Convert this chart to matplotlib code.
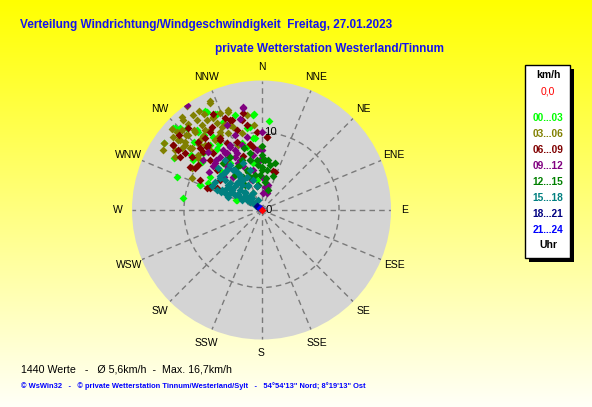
import numpy as np
import matplotlib
matplotlib.use("Agg")
import matplotlib.pyplot as plt
from matplotlib.patches import Rectangle
from matplotlib import font_manager

# ---------------- data ----------------
dir_labels = ["N", "NNE", "NE", "ENE", "E", "ESE", "SE", "SSE",
              "S", "SSW", "SW", "WSW", "W", "WNW", "NW", "NNW"]
max_speed = 16.7
ring_values = [10]

hour_labels = ["00...03", "03...06", "06...09", "09...12",
               "12...15", "15...18", "18...21", "21...24"]
hour_colors = ["#00ff00", "#808000", "#800000", "#800080",
               "#008000", "#008080", "#000080", "#0000ff"]

# wind direction (deg, from N clockwise) and speed (km/h) per 3-hour block
dir_00_03 = [330.9, 334.3, 355.5, 5.0, 312.7, 304.4, 300.7, 291.0, 279.0, 321.1,
             315.1, 314.3, 321.6, 292.1, 302.9, 314.0, 325.1, 324.0, 326.7, 292.0,
             349.7, 343.4, 353.5, 326.0, 306.3, 315.1, 336.6, 350.8,
             330.3, 335.1, 344.4, 355.1, 313.4, 317.5, 321.0, 322.2, 327.1, 346.8,
             354.8, 308.2, 352.1, 292.1, 292.0, 296.6, 308.9, 350.0]
spd_00_03 = [14.5, 13.8, 12.4, 11.5, 15.6, 15.3, 13.1, 11.7, 10.2, 13.0,
             12.4, 10.5, 10.7, 8.6, 7.9, 7.4, 7.9, 9.8, 11.3, 3.5,
             10.7, 9.0, 9.3, 7.3, 10.9, 14.9, 12.4, 3.9,
             14.7, 13.7, 12.7, 12.3, 15.3, 14.3, 13.3, 12.2, 10.2, 8.4,
             9.3, 11.5, 10.8, 8.6, 3.4, 7.7, 9.9, 6.1]

dir_03_06 = [324.5, 334.4, 328.0, 319.3, 319.8, 312.3, 304.4, 301.3, 309.8, 310.7,
             315.0, 319.6, 324.9, 328.6, 332.7, 336.8, 341.4, 337.2, 332.1, 327.2,
             328.0, 321.6, 316.5, 310.8, 307.7, 301.7, 294.4, 340.4, 341.3, 336.6,
             345.5, 355.2, 351.1, 300.8, 309.3, 312.7, 311.8, 324.2, 332.6, 329.0,
             334.6, 324.3, 332.3, 341.6, 319.0, 334.5, 358.6, 0.2, 315.2, 315.6,
             319.5, 318.7, 310.4, 311.7, 319.0, 310.0, 324.8, 326.4, 304.7, 310.9,
             319.4, 331.0, 339.7]
spd_03_06 = [16.5, 15.3, 15.1, 15.8, 14.6, 15.6, 15.3, 14.9, 14.8, 13.9,
             13.7, 13.5, 13.4, 13.6, 13.5, 13.6, 13.4, 12.1, 11.4, 12.3,
             10.9, 12.1, 11.8, 12.2, 13.0, 13.1, 9.9, 8.9, 11.3, 10.8,
             10.2, 11.0, 12.4, 10.5, 10.5, 14.9, 13.2, 14.3, 12.6, 14.5,
             15.5, 15.1, 13.4, 13.6, 15.4, 11.9, 8.0, 6.7, 14.5, 13.5,
             13.2, 12.0, 12.9, 12.0, 11.1, 14.1, 12.6, 10.8, 13.6, 10.8,
             10.2, 11.1, 11.7]

dir_06_09 = [317.8, 326.7, 306.4, 303.0, 306.5, 307.4, 315.1, 319.1, 329.3, 319.6,
             332.4, 340.7, 342.8, 350.1, 350.2, 352.7, 4.0, 17.2, 294.4, 296.0,
             311.7, 314.2, 325.1, 341.2, 325.9, 305.9, 349.4, 338.3, 302.1, 317.3,
             301.2, 312.1, 356.5, 291.6,
             333.5, 341.7, 347.6, 329.1, 321.8, 329.9, 306.4, 305.8, 320.7, 340.0,
             4.1, 295.8, 292.8, 19.4, 6.5, 305.2, 315.0]
spd_06_09 = [14.2, 12.1, 14.1, 12.6, 12.3, 11.3, 11.2, 10.8, 10.5, 9.6,
             9.7, 12.3, 10.8, 11.1, 8.7, 8.2, 9.5, 5.2, 7.3, 8.8,
             7.7, 9.3, 7.9, 7.3, 5.7, 6.6, 12.7, 12.7, 10.1, 12.0,
             10.8, 14.4, 10.1, 7.6,
             13.9, 12.2, 11.9, 12.5, 11.8, 10.7, 14.1, 13.2, 10.8, 9.4,
             9.5, 6.4, 7.2, 5.2, 4.0, 10.1, 10.6]

dir_09_12 = [350.0, 0.0, 355.4, 348.6, 0.2, 3.3, 15.7, 336.3, 321.2, 318.1,
             305.8, 322.1, 333.6, 343.0, 347.0, 348.5, 337.3, 319.8, 311.1, 312.0,
             310.7, 340.5, 346.8, 337.7, 358.3, 8.5, 327.5, 336.7, 341.9,
             324.4, 349.9, 334.1, 336.2, 327.2, 351.5, 317.6, 328.5, 333.6, 6.2,
             348.4, 15.2, 16.7, 333.6, 315.1, 321.5, 326.6]
spd_09_12 = [13.5, 10.1, 7.8, 9.6, 7.7, 4.1, 2.5, 8.0, 7.2, 8.7,
             8.4, 8.7, 9.1, 8.8, 6.6, 5.3, 6.1, 5.6, 6.5, 8.4,
             9.9, 10.3, 12.1, 11.8, 6.4, 3.0, 9.2, 7.0, 4.1,
             16.6, 13.3, 9.3, 8.5, 8.7, 7.2, 10.2, 8.6, 6.7, 2.2,
             3.1, 3.3, 2.3, 7.7, 8.5, 6.9, 4.6]

dir_12_15 = [0.2, 2.1, 19.5, 7.4, 0.2, 348.3, 334.0, 357.5, 7.8, 341.0,
             339.7, 354.5, 338.4, 331.4, 348.5, 0.2, 330.2, 329.4, 320.7, 344.4,
             16.1, 7.0,
             347.0, 355.6, 4.0, 0.7, 349.5, 8.0, 340.4, 334.5, 10.7, 18.0,
             352.0, 326.6, 322.9]
spd_12_15 = [7.1, 6.4, 4.6, 5.2, 5.6, 3.1, 2.4, 4.5, 6.5, 4.5,
             5.5, 6.5, 6.9, 4.9, 7.5, 8.2, 6.4, 8.0, 7.8, 8.3,
             6.3, 3.7,
             6.6, 5.8, 6.5, 5.2, 4.6, 4.2, 5.2, 6.4, 5.9, 2.7,
             3.3, 3.9, 5.7]

dir_15_18 = [304.6, 309.2, 305.9, 304.0, 302.7, 301.8, 299.5, 297.9, 294.5, 294.7,
             319.2, 315.3, 312.9, 311.4, 310.2, 309.4, 333.9, 330.6, 328.8, 327.7,
             324.8, 348.3, 344.8, 344.0, 338.7, 319.0, 308.8, 303.8, 317.0, 321.6,
             301.9, 294.1, 291.9, 342.4, 336.0, 313.9, 327.2,
             301.1, 307.6, 316.2, 325.0, 326.5, 306.7, 320.0, 317.5, 328.4, 331.6,
             321.6, 296.9, 295.9, 301.4, 297.1, 323.9, 314.0, 311.0, 317.1, 312.1,
             304.2, 304.9]
spd_15_18 = [0.8, 1.4, 1.8, 2.3, 2.8, 3.3, 3.9, 4.6, 5.2, 5.7,
             2.3, 3.0, 3.8, 4.6, 5.3, 6.1, 2.4, 3.5, 4.5, 5.6,
             6.3, 3.1, 4.0, 5.4, 6.5, 6.8, 6.9, 4.6, 4.7, 4.1,
             5.3, 6.3, 4.6, 1.35, 4.7, 6.8, 5.1,
             7.0, 6.8, 6.8, 7.1, 6.2, 5.4, 4.7, 3.1, 5.3, 3.7,
             2.0, 5.7, 7.1, 4.5, 2.8, 8.0, 7.8, 2.0, 1.2, 2.7,
             3.7, 5.0]

dir_18_21 = [315.0, 320.0, 310.0]
spd_18_21 = [0.6, 0.4, 0.8]

dir_21_24 = [330.0, 325.0]
spd_21_24 = [0.3, 0.2]

calm_dir = [0.0]
calm_spd = [0.0]

groups = [(dir_00_03, spd_00_03), (dir_03_06, spd_03_06), (dir_06_09, spd_06_09),
          (dir_09_12, spd_09_12), (dir_12_15, spd_12_15), (dir_15_18, spd_15_18),
          (dir_18_21, spd_18_21), (dir_21_24, spd_21_24)]

title_text = "Verteilung Windrichtung/Windgeschwindigkeit  Freitag, 27.01.2023"
subtitle_text = "private Wetterstation Westerland/Tinnum"
stats_text = "1440 Werte   -   \u00d8 5,6km/h  -  Max. 16,7km/h"
footer_text = ("\u00a9 WsWin32   -   \u00a9 private Wetterstation Tinnum/Westerland/Sylt   -   "
               "54\u00b054'13\" Nord; 8\u00b019'13\" Ost")

# ---------------- layout ----------------
W, H = 592, 407
fig = plt.figure(figsize=(W / 100, H / 100), dpi=100)

names = {f.name for f in font_manager.fontManager.ttflist}
BASE = "Liberation Sans" if "Liberation Sans" in names else "DejaVu Sans"
NARROW = "Liberation Sans Narrow" if "Liberation Sans Narrow" in names else BASE


def fx(px):
    return px / W


def fy(py):
    return 1 - py / H


# yellow gradient background
bg = fig.add_axes([0, 0, 1, 1], zorder=-10)
bg.axis("off")
g = np.linspace(0.0, 0.97, 256)
img = np.ones((256, 2, 3))
img[:, :, 2] = g[:, None]
bg.imshow(img, aspect="auto", extent=[0, 1, 0, 1], origin="upper", interpolation="bilinear")
bg.set_xlim(0, 1)
bg.set_ylim(0, 1)

# polar chart
cx, cy, R = 261.5, 210.0, 129.5
ax = fig.add_axes([fx(cx - R), fy(cy + R), 2 * R / W, 2 * R / H], projection="polar")
ax.set_theta_zero_location("N")
ax.set_theta_direction(-1)
ax.set_facecolor("#d4d4d4")
ax.set_ylim(0, max_speed)
ax.spines["polar"].set_visible(False)
ax.set_xticks(np.deg2rad(np.arange(0, 360, 22.5)))
ax.set_xticklabels([])
ax.set_yticks(ring_values)
ax.set_yticklabels([])
ax.tick_params(length=0)
ax.grid(True, color="#7a7a7a", linestyle=(0, (4, 3)), linewidth=1.0)

label_r = max_speed * 143.5 / R
for i, lab in enumerate(dir_labels):
    ax.text(np.deg2rad(22.5 * i), label_r, lab, ha="center", va="center",
            fontsize=7.5, family=BASE, color="black", clip_on=False)

for (d, s), col in zip(groups, hour_colors):
    ax.scatter(np.deg2rad(d), s, marker="D", s=16, c=col, linewidths=0, zorder=3)
ax.scatter(np.deg2rad(calm_dir), calm_spd, marker="D", s=16, c="#ff0000",
           linewidths=0, zorder=4, clip_on=False)

for v in ring_values:
    ax.annotate(str(v), xy=(0, v), xytext=(3, 0), textcoords="offset pixels",
                ha="left", va="center", fontsize=8.2, family=BASE, color="black", zorder=6)
ax.annotate("0", xy=(0, 0), xytext=(4, 0), textcoords="offset pixels",
            ha="left", va="center", fontsize=8.2, family=BASE, color="black", zorder=6)

# ---------------- texts ----------------
fig.canvas.draw()
renderer = fig.canvas.get_renderer()


def fit_text(x, y, s, target_w, size, **kw):
    t = fig.text(fx(x), fy(y), s, ha="left", va="center", fontsize=size, **kw)
    w = t.get_window_extent(renderer).width
    if w > 0:
        t.set_fontsize(size * target_w / w)
    return t


title_blue = "#1414ee"
fit_text(20, 25, title_text, 370, 9.5, family=NARROW, weight="bold", color=title_blue)
fit_text(215, 49, subtitle_text, 229, 9.5, family=NARROW, weight="bold", color=title_blue)
fit_text(21, 369, stats_text, 211, 8, family=BASE, color="black")
fit_text(21, 386, footer_text, 349, 6, family=BASE, weight="bold", color="#0000ff")

# legend box with shadow
fig.patches.append(Rectangle((fx(529), fy(262)), 45 / W, 193 / H, transform=fig.transFigure,
                             facecolor="black", edgecolor="none", zorder=1))
fig.patches.append(Rectangle((fx(525), fy(258)), 45 / W, 193 / H, transform=fig.transFigure,
                             facecolor="white", edgecolor="black", linewidth=1, zorder=2))

lx = fx(548)
fig.text(lx, fy(75), "km/h", ha="center", va="center", fontsize=7.5, family=BASE,
         weight="bold", color="black", zorder=5)
fig.text(lx, fy(91.5), "0,0", ha="center", va="center", fontsize=7.5, family=BASE,
         color="#ff0000", zorder=5)
leg_y = [118, 134, 150, 166, 182, 198, 214, 230]
for lab, col, yy in zip(hour_labels, hour_colors, leg_y):
    fig.text(lx, fy(yy), lab, ha="center", va="center", fontsize=7.3, family=BASE,
             weight="bold", color=col, zorder=5)
fig.text(lx, fy(245.5), "Uhr", ha="center", va="center", fontsize=7.5, family=BASE,
         weight="bold", color="black", zorder=5)

fig.savefig("out.png", dpi=100)
